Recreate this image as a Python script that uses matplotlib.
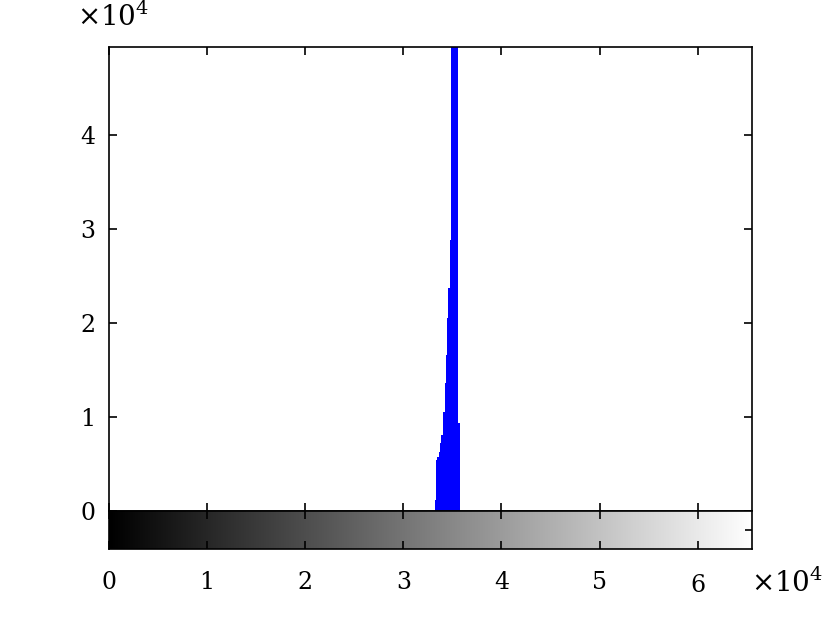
import matplotlib.pyplot as plt
import numpy as np
from matplotlib.transforms import ScaledTranslation

plt.rcParams['font.family'] = 'DejaVu Serif'
plt.rcParams['mathtext.fontset'] = 'dejavuserif'
plt.rcParams['font.size'] = 17

# histogram data (bin edges in intensity, counts)
bin_edges = [33247, 33349, 33451, 33584, 33686, 33860, 34064, 34197,
             34299, 34401, 34533, 34728, 34881, 35544, 35779]
counts = [1170, 5430, 5780, 6310, 7230, 8090, 10530, 13620,
          16600, 20530, 23720, 28830, 60000, 9360]

x_max = 65535
y_max = 49350
x_ticks = [0, 10000, 20000, 30000, 40000, 50000, 60000]
x_tick_labels = ['0', '1', '2', '3', '4', '5', '6']
y_ticks = [0, 10000, 20000, 30000, 40000]
y_tick_labels = ['0', '1', '2', '3', '4']

fig = plt.figure(figsize=(8.3, 6.2), dpi=100)

# main histogram axes
ax = fig.add_axes([109 / 830, 109 / 620, 643 / 830, 464 / 620])
ax.stairs(counts, bin_edges, fill=True, color='#0000ff')
ax.set_xlim(0, x_max)
ax.set_ylim(0, y_max)
ax.set_xticks(x_ticks)
ax.set_xticklabels([])
ax.set_yticks(y_ticks)
ax.set_yticklabels(y_tick_labels)
ax.tick_params(direction='in', top=True, right=True, length=6, width=1.2,
               pad=10, labelsize=17)
for s in ax.spines.values():
    s.set_linewidth(1.2)

# gray colour strip below
cax = fig.add_axes([109 / 830, 71 / 620, 643 / 830, 38 / 620])
grad = np.linspace(0, 1, 256).reshape(1, -1)
cax.imshow(grad, cmap='gray', aspect='auto', extent=[0, x_max, 0, 1])
cax.set_xlim(0, x_max)
cax.set_ylim(0, 1)
cax.set_xticks(x_ticks)
cax.set_xticklabels(x_tick_labels)
cax.set_yticks([0.5])
cax.set_yticklabels([])
cax.yaxis.tick_right()
cax.tick_params(axis='x', direction='in', top=True, length=6, width=1.2,
                pad=16, labelsize=17)
cax.tick_params(axis='y', direction='in', length=5, width=1.2)
for s in cax.spines.values():
    s.set_linewidth(1.2)

# the last label sits a little lower in the original
lbl = cax.get_xticklabels()[-1]
lbl.set_transform(lbl.get_transform() + ScaledTranslation(0, -3 / 100, fig.dpi_scale_trans))

fig.text(77 / 830, 1 - 17 / 620, r'$\times10^4$', fontsize=20, va='center', ha='left')
fig.text(751 / 830, 1 - 583 / 620, r'$\times10^4$', fontsize=20, va='center', ha='left')

fig.savefig('out.png', dpi=100)
